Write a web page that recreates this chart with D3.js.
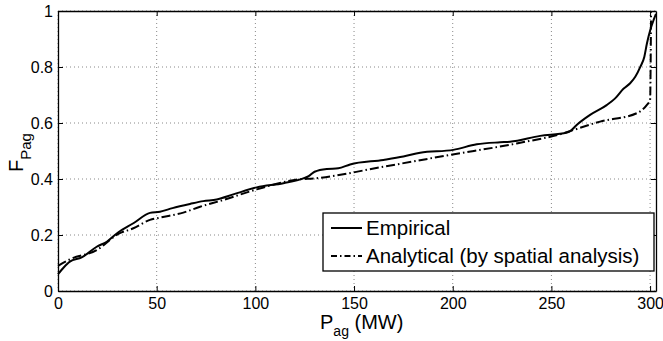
<!DOCTYPE html>
<html>
<head>
<meta charset="utf-8">
<script src="https://d3js.org/d3.v7.min.js"></script>
<style>
  body { margin: 0; background: #fff; }
  svg { font-family: "Liberation Sans", Arial, sans-serif; }
  .grid line { stroke: #888; stroke-width: 1; stroke-dasharray: 1,3; }
</style>
</head>
<body>
<div id="chart"></div>
<script>
// empirical CDF of aggregated power
var empX = [0, 3, 6, 12, 19.6, 24.7, 30.6, 38.2, 46.6, 51.7, 58, 66.9, 73.6, 80.4, 88.8, 100.7, 114.2, 124.3, 127, 130, 136.2, 142, 148, 164.9, 175, 183.5, 200.3, 212.2, 224, 229, 244.3, 257.8, 259.5, 262.8, 269.6, 278, 282.3, 286.5, 289.9, 292.5, 295.1, 297.1, 298.4, 300.1, 301.8, 303];
var empF = [0.06, 0.085, 0.105, 0.12, 0.158, 0.176, 0.21, 0.242, 0.279, 0.283, 0.296, 0.311, 0.321, 0.327, 0.345, 0.37, 0.385, 0.402, 0.41, 0.426, 0.436, 0.438, 0.452, 0.468, 0.48, 0.494, 0.504, 0.524, 0.531, 0.533, 0.554, 0.566, 0.571, 0.593, 0.629, 0.664, 0.688, 0.722, 0.742, 0.765, 0.801, 0.837, 0.884, 0.932, 0.968, 0.99];

// analytical CDF
var anaX = [0, 6, 19.6, 30.6, 38.2, 46.6, 51.7, 63.5, 72, 83.8, 100.7, 122.6, 129.4, 164.9, 198.6, 232.4, 257.8, 259.5, 274.7, 293.3, 298.3, 300, 300.5];
var anaF = [0.09, 0.113, 0.146, 0.204, 0.224, 0.254, 0.262, 0.28, 0.301, 0.325, 0.363, 0.399, 0.402, 0.444, 0.486, 0.527, 0.567, 0.571, 0.605, 0.635, 0.664, 0.682, 1.0];

var xTicks = [0, 50, 100, 150, 200, 250, 300];
var yTicks = [0, 0.2, 0.4, 0.6, 0.8, 1];
var legendLabels = ["Empirical", "Analytical (by spatial analysis)"];

var drawCdfChart = function(id) {
  var margin = {top: 11, right: 7, bottom: 50, left: 58};
  var width = 663 - margin.left - margin.right;
  var height = 341 - margin.top - margin.bottom;

  var x = d3.scaleLinear().domain([0, 303]).range([0, width]);
  var y = d3.scaleLinear().domain([0, 1]).range([height, 0]);

  var svg = d3.select(id).append("svg")
      .attr("width", 663)
      .attr("height", 341)
    .append("g")
      .attr("transform", "translate(" + margin.left + "," + margin.top + ")");

  // dotted grid
  svg.append("g")
      .attr("class", "grid")
    .selectAll("line")
      .data(xTicks)
    .enter().append("line")
      .attr("x1", function(d) { return x(d); })
      .attr("x2", function(d) { return x(d); })
      .attr("y1", 0)
      .attr("y2", height);

  svg.append("g")
      .attr("class", "grid")
    .selectAll("line")
      .data(yTicks)
    .enter().append("line")
      .attr("x1", 0)
      .attr("x2", width)
      .attr("y1", function(d) { return y(d); })
      .attr("y2", function(d) { return y(d); });

  // axes, ticks pointing inward like matlab
  var xAxis = d3.axisBottom(x).tickValues(xTicks).tickSizeInner(-5).tickSizeOuter(0).tickPadding(7)
      .tickFormat(d3.format("d"));
  var yAxis = d3.axisLeft(y).tickValues(yTicks).tickSizeInner(-5).tickSizeOuter(0).tickPadding(5)
      .tickFormat(function(d) { return d === 0 ? "0" : d === 1 ? "1" : d3.format(".1f")(d); });

  var gx = svg.append("g")
      .attr("transform", "translate(0," + height + ")")
      .call(xAxis);
  var gy = svg.append("g").call(yAxis);

  svg.append("g").call(d3.axisTop(x).tickValues(xTicks).tickSizeInner(-5).tickSizeOuter(0).tickFormat(""));
  svg.append("g")
      .attr("transform", "translate(" + width + ",0)")
      .call(d3.axisRight(y).tickValues(yTicks).tickSizeInner(-5).tickSizeOuter(0).tickFormat(""));

  svg.selectAll(".domain").attr("stroke", "#000").attr("stroke-width", 1.3);
  svg.selectAll(".tick line").attr("stroke", "#000");
  gx.selectAll("text").attr("font-size", 16).attr("fill", "#000").attr("font-family", "Liberation Sans, Arial, sans-serif");
  gy.selectAll("text").attr("font-size", 16).attr("fill", "#000").attr("dy", "0.35em").attr("font-family", "Liberation Sans, Arial, sans-serif");

  // curves
  var line = d3.line()
      .curve(d3.curveMonotoneX)
      .x(function(d) { return x(d[0]); })
      .y(function(d) { return y(d[1]); });

  var empData = empX.map(function(v, i) { return [v, empF[i]]; });
  var anaData = anaX.map(function(v, i) { return [v, anaF[i]]; });

  svg.append("path")
      .datum(anaData)
      .attr("fill", "none")
      .attr("stroke", "#000")
      .attr("stroke-width", 2)
      .attr("stroke-dasharray", "9,3,1.5,3")
      .attr("d", line);

  svg.append("path")
      .datum(empData)
      .attr("fill", "none")
      .attr("stroke", "#000")
      .attr("stroke-width", 2)
      .attr("d", line);

  // axis labels
  var xl = svg.append("text")
      .attr("x", 262)
      .attr("y", 318)
      .attr("font-size", 20);
  xl.append("tspan").text("P");
  xl.append("tspan").attr("font-size", 14).attr("dy", 7).text("ag");
  xl.append("tspan").attr("dy", -7).text(" (MW)");

  var yl = svg.append("text")
      .attr("transform", "translate(" + (-35) + "," + 161 + ") rotate(-90)")
      .attr("font-size", 20);
  yl.append("tspan").text("F");
  yl.append("tspan").attr("font-size", 15).attr("dy", 8).text("Pag");

  // legend
  var lg = svg.append("g")
      .attr("transform", "translate(" + (323 - margin.left) + "," + (213 - margin.top) + ")");
  lg.append("rect")
      .attr("width", 331)
      .attr("height", 58)
      .attr("fill", "#fff")
      .attr("stroke", "#000")
      .attr("stroke-width", 1.3);

  var dashes = [null, "6,3,1.5,3"];
  legendLabels.forEach(function(t, i) {
    var row = lg.append("g").attr("transform", "translate(0," + (15 + i * 28) + ")");
    row.append("line")
        .attr("x1", 8).attr("x2", 39)
        .attr("y1", 0).attr("y2", 0)
        .attr("stroke", "#000")
        .attr("stroke-width", 2)
        .attr("stroke-dasharray", dashes[i]);
    row.append("text")
        .attr("x", 43)
        .attr("y", 0)
        .attr("dy", "0.35em")
        .attr("font-size", 20.5)
        .text(t);
  });
}

drawCdfChart("#chart");
</script>
</body>
</html>
